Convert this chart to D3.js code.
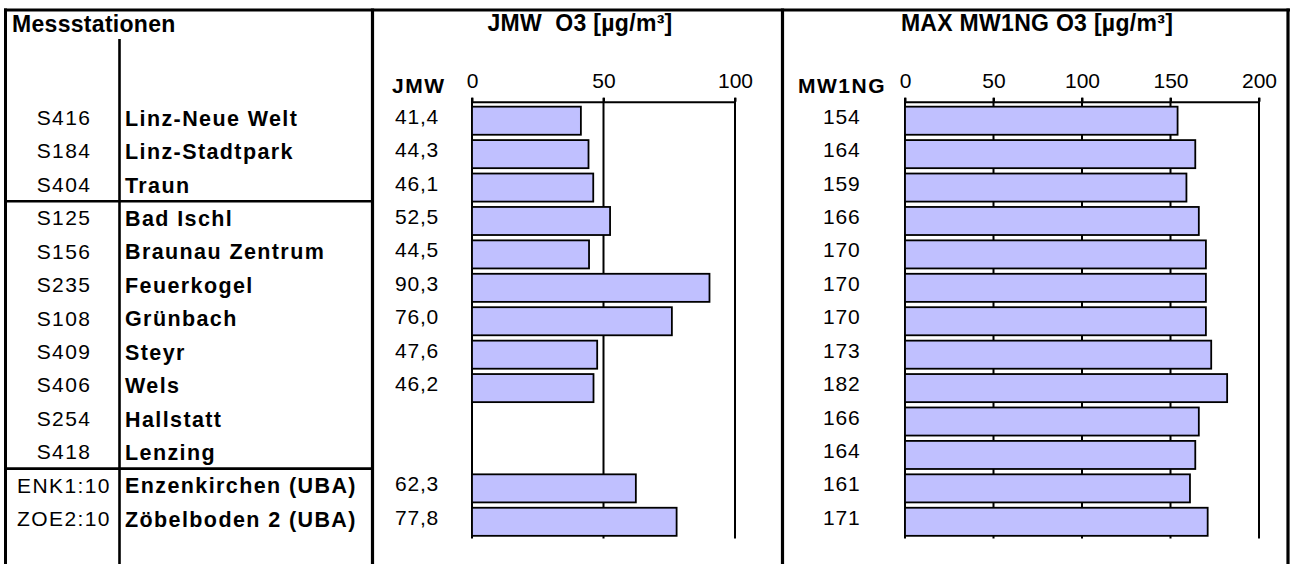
<!DOCTYPE html>
<html>
<head>
<meta charset="utf-8">
<script src="https://cdn.jsdelivr.net/npm/d3@7"></script>
<style>
  html, body { margin: 0; padding: 0; background: #fff; }
  svg { display: block; }
  text { font-family: "Liberation Sans", Arial, Helvetica, sans-serif; fill: #000; }
  .title { white-space: pre; }
</style>
</head>
<body>
<svg id="chart" width="1290" height="564"></svg>
<script>
// Ozone monitoring stations (Upper Austria) — annual mean and max. 1-h mean
const stationCodes = ["S416", "S184", "S404", "S125", "S156", "S235", "S108",
                      "S409", "S406", "S254", "S418", "ENK1:10", "ZOE2:10"];
const stationNames = ["Linz-Neue Welt", "Linz-Stadtpark", "Traun", "Bad Ischl",
                      "Braunau Zentrum", "Feuerkogel", "Grünbach", "Steyr", "Wels",
                      "Hallstatt", "Lenzing", "Enzenkirchen (UBA)", "Zöbelboden 2 (UBA)"];
const jmwValues = [41.4, 44.3, 46.1, 52.5, 44.5, 90.3, 76.0, 47.6, 46.2, null, null, 62.3, 77.8];
const mw1ngValues = [154, 164, 159, 166, 170, 170, 170, 173, 182, 166, 164, 161, 171];
const jmwTicks = [0, 50, 100];
const mw1ngTicks = [0, 50, 100, 150, 200];
// first station of each new group in the table
const groupStarts = ["S125", "ENK1:10"];

const svg = d3.select("#chart");
const fmtComma = v => d3.format(".1f")(v).replace(".", ",");
const fmtInt = d3.format("d");

const y = d3.scaleBand()
  .domain(stationCodes)
  .range([104, 538.5])
  .paddingInner(0.16)
  .paddingOuter(0.08);

const xJmw = d3.scaleLinear().domain([0, 100]).range([472, 735]);
const xMw = d3.scaleLinear().domain([0, 200]).range([905, 1259]);

const plotTop = 97.7, axisY = 101.7, plotBottom = 538.5;

// ---- table frame ----
const frame = svg.append("g").attr("stroke", "#000").attr("fill", "none");
frame.append("line").attr("x1", 4).attr("x2", 1290).attr("y1", 10).attr("y2", 10).attr("stroke-width", 3);
[[5.5, 3, 8.5], [372.5, 3.2, 8.5], [782.5, 3.2, 8.5], [1288, 3.2, 8.5], [119.5, 2.6, 39]].forEach(([x, w, y0]) => {
  frame.append("line").attr("x1", x).attr("x2", x).attr("y1", y0).attr("y2", 564).attr("stroke-width", w);
});
groupStarts.forEach(code => {
  const yy = y(code) - y.step() * y.paddingInner() / 2 - 3;
  frame.append("line").attr("x1", 5).attr("x2", 372).attr("y1", yy).attr("y2", yy).attr("stroke-width", 2.6);
});

// ---- station table ----
svg.append("text").attr("x", 12).attr("y", 32)
  .attr("font-size", 23).attr("font-weight", "bold").attr("letter-spacing", 0.3)
  .text("Messstationen");

const rows = svg.append("g");
stationCodes.forEach((code, i) => {
  const cy = y(code) + y.bandwidth() / 2;
  rows.append("text").attr("x", 64).attr("y", cy + 4.3)
    .attr("text-anchor", "middle").attr("font-size", 21).attr("letter-spacing", 1.4)
    .text(code);
  rows.append("text").attr("x", 125).attr("y", cy + 5)
    .attr("font-size", 21.5).attr("font-weight", "bold").attr("letter-spacing", 1.4)
    .text(stationNames[i]);
});

// ---- bar panels ----
function drawPanel(opts) {
  const { x, values, ticks, title, titleX, header, headerX, valueX, fmt } = opts;
  const g = svg.append("g");

  g.append("text").attr("class", "title").attr("x", titleX).attr("y", 31)
    .attr("text-anchor", "middle").attr("font-size", 23).attr("font-weight", "bold")
    .attr("letter-spacing", 0.3)
    .text(title);

  g.append("text").attr("x", headerX).attr("y", 92.5)
    .attr("font-size", 21).attr("font-weight", "bold").attr("letter-spacing", 1.5)
    .text(header);

  // gridlines (behind bars)
  g.append("g").selectAll("line").data(ticks).join("line")
    .attr("x1", d => x(d)).attr("x2", d => x(d))
    .attr("y1", plotTop).attr("y2", plotBottom)
    .attr("stroke", "#000").attr("stroke-width", 2);

  // value axis along the top
  const axis = g.append("g").attr("transform", `translate(0,${axisY})`)
    .call(d3.axisTop(x).tickValues(ticks).tickSize(4).tickSizeOuter(0).tickPadding(9.7));
  axis.select(".domain").attr("stroke", "#000").attr("stroke-width", 2);
  axis.selectAll(".tick line").attr("stroke", "#000").attr("stroke-width", 2);
  axis.selectAll(".tick text").attr("font-size", 21).attr("fill", "#000")
    .attr("font-family", "\"Liberation Sans\", Arial, sans-serif");

  const data = stationCodes.map((c, i) => ({ code: c, v: values[i] }));

  g.append("g").selectAll("rect").data(data.filter(d => d.v != null)).join("rect")
    .attr("x", x(0))
    .attr("y", d => y(d.code))
    .attr("width", d => x(d.v) - x(0))
    .attr("height", y.bandwidth())
    .attr("fill", "#c0c0ff")
    .attr("stroke", "#000")
    .attr("stroke-width", 1.8);

  g.append("g").selectAll("text").data(data.filter(d => d.v != null)).join("text")
    .attr("x", valueX)
    .attr("y", d => y(d.code) + y.bandwidth() / 2 + 3)
    .attr("font-size", 21).attr("letter-spacing", 0.8)
    .text(d => fmt(d.v));
}

drawPanel({
  x: xJmw, values: jmwValues, ticks: jmwTicks,
  title: "JMW  O3 [µg/m³]", titleX: 580,
  header: "JMW", headerX: 392, valueX: 395, fmt: fmtComma
});

drawPanel({
  x: xMw, values: mw1ngValues, ticks: mw1ngTicks,
  title: "MAX MW1NG O3 [µg/m³]", titleX: 1037,
  header: "MW1NG", headerX: 798, valueX: 823, fmt: fmtInt
});
</script>
</body>
</html>
